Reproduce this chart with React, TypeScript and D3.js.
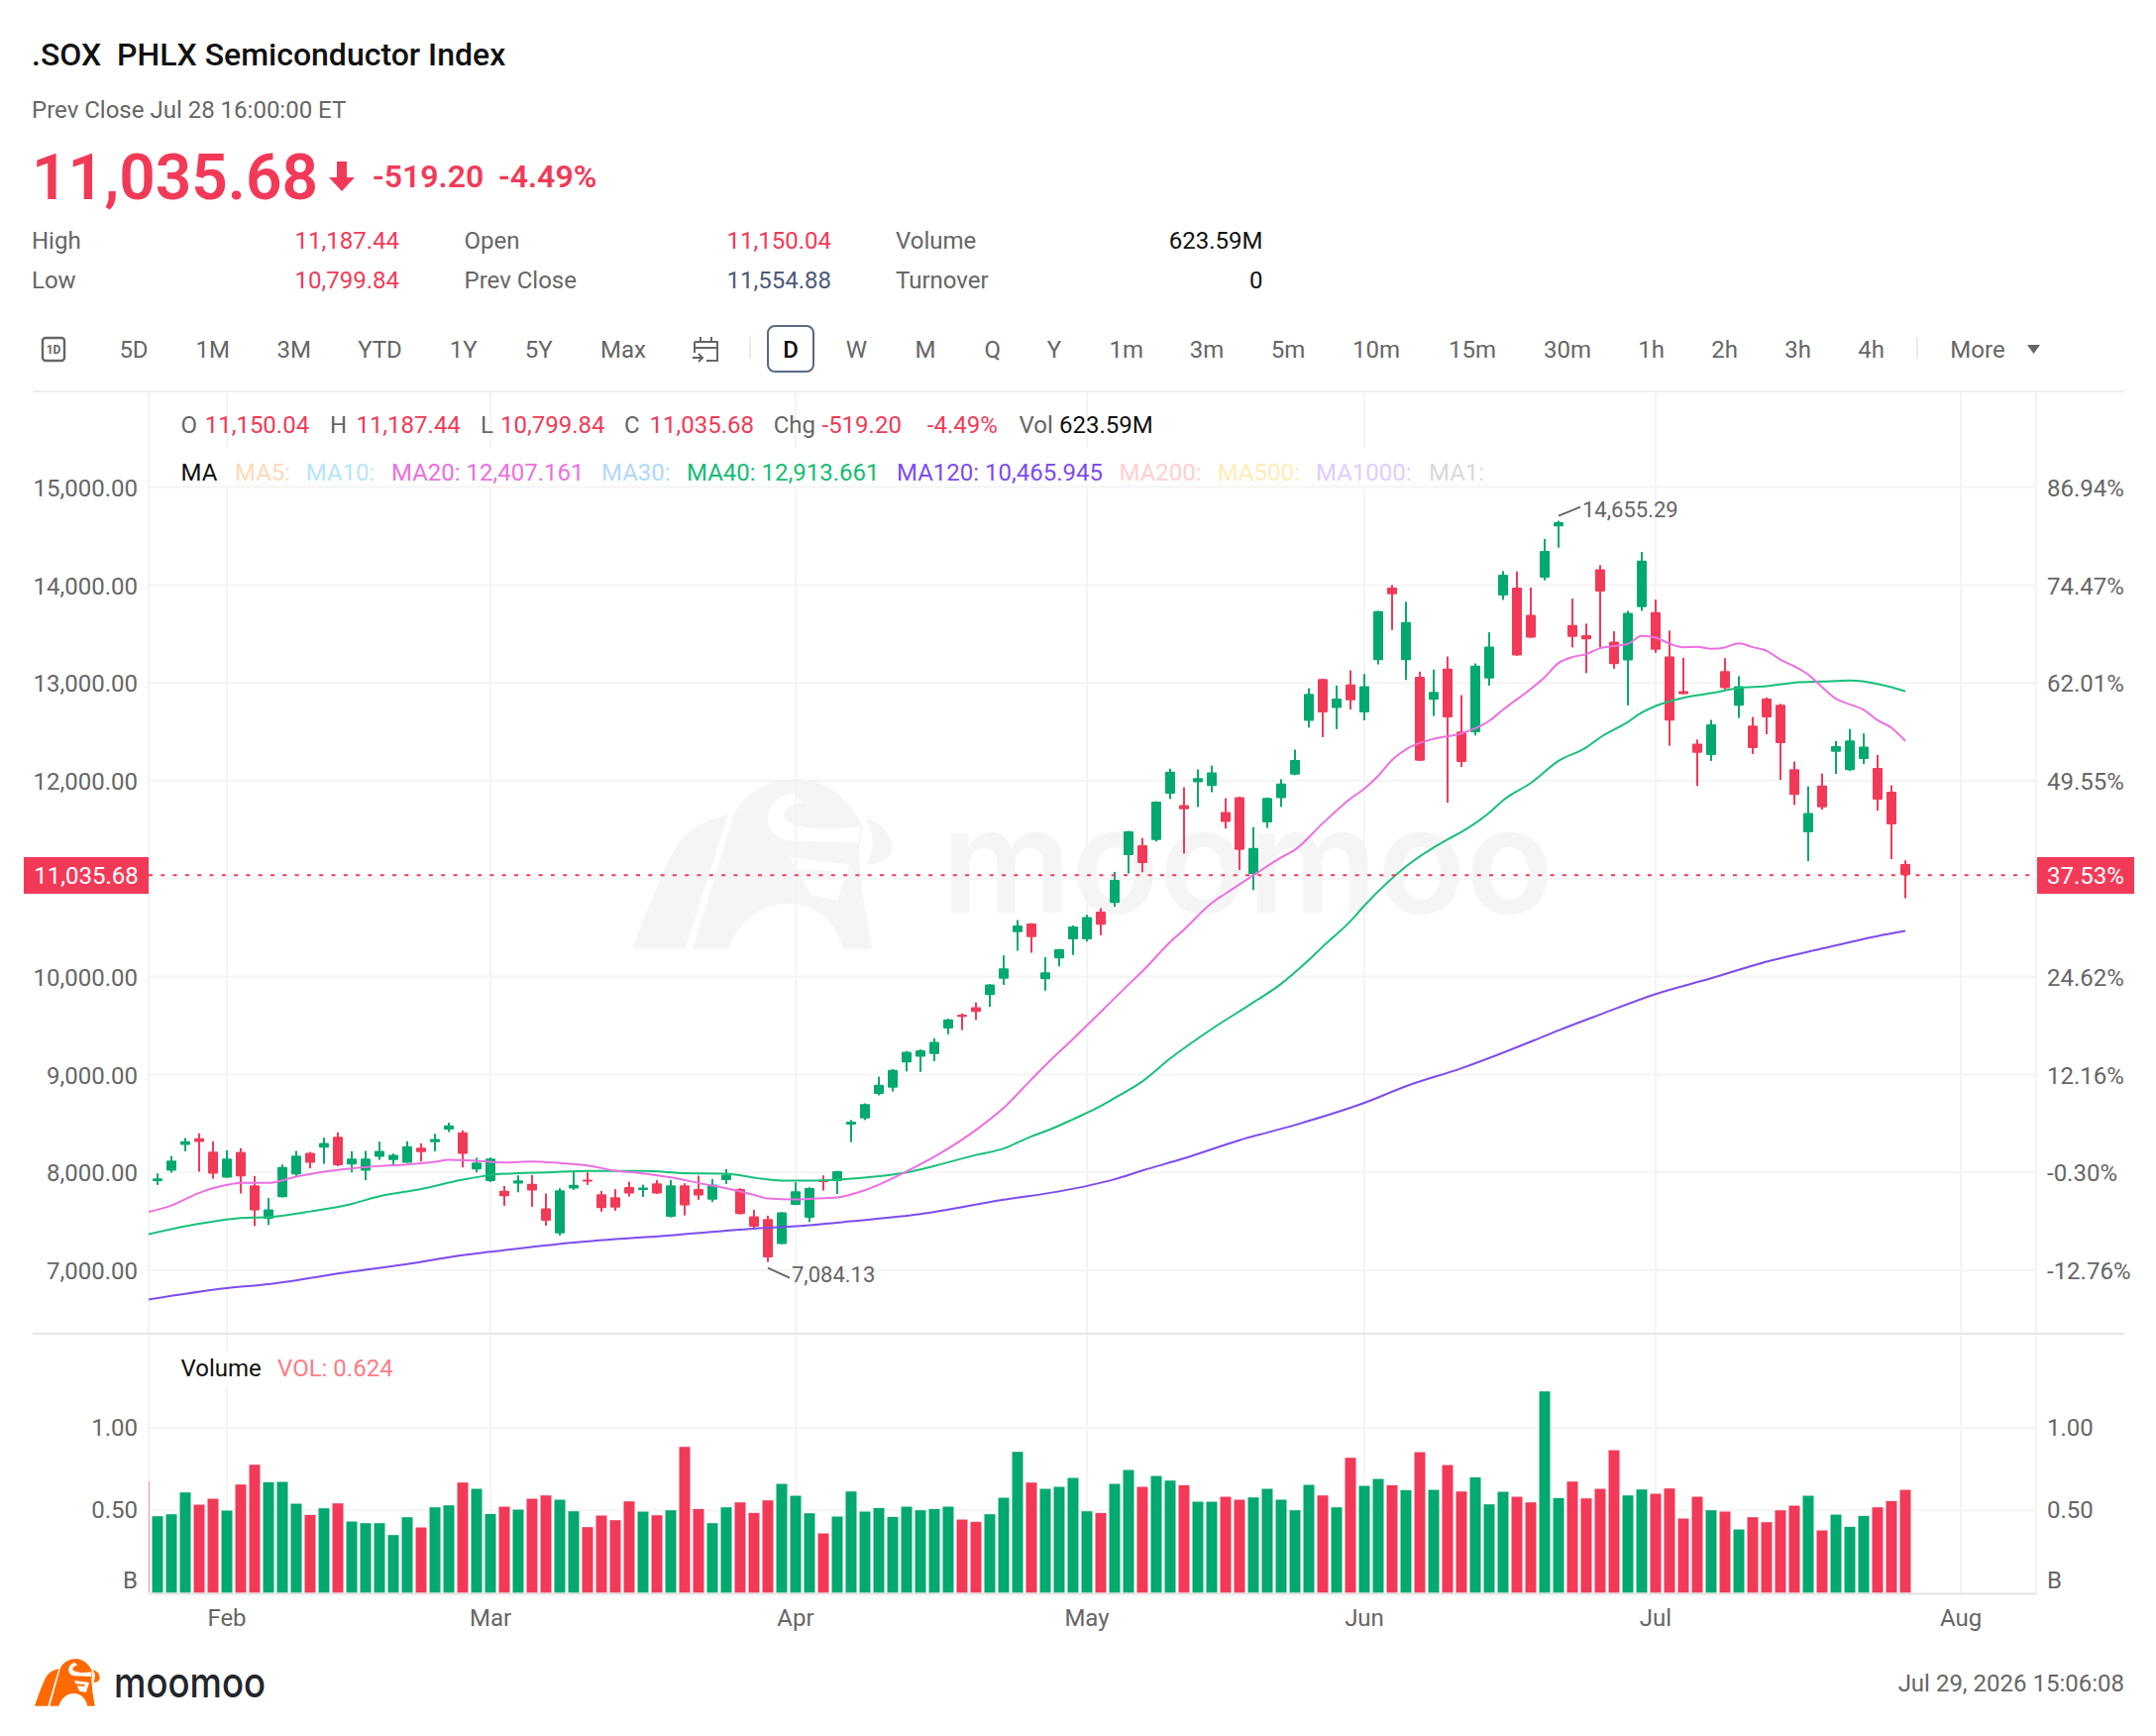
import { useEffect, useRef } from 'react'
import * as d3 from 'd3'

const RED = '#f23a58'
const GREEN = '#03a96e'
const GRAY = '#666666'
const GRID = '#f4f4f4'
const FONT = 'Roboto, sans-serif'

// daily candles, index 0 = first whole candle on screen
const opens = [
  7912, 8017, 8280, 8348, 8213, 7946, 8209, 7868, 7527, 7747,
  7980, 8199, 8253, 8365, 8081, 8017, 8159, 8125, 8098, 8253,
  8307, 8436, 8409, 8030, 7912, 7811, 7885, 7882, 7632, 7378,
  7834, 7926, 7777, 7747, 7851, 7821, 7889, 7547, 7868, 7831,
  7720, 7922, 7831, 7551, 7524, 7267, 7669, 7537, 7922, 7911,
  8488, 8550, 8802, 8864, 9124, 9182, 9209, 9469, 9612, 9686,
  9810, 9977, 10453, 10543, 9973, 10186, 10380, 10380, 10663, 10752,
  11240, 11341, 11395, 11868, 11752, 11985, 11946, 11682, 11833, 11046,
  11574, 11822, 12062, 12612, 13039, 12744, 12984, 12699, 13233, 13973,
  13233, 13064, 12828, 13145, 12503, 12497, 13044, 13892, 13973, 13696,
  14074, 14598, 13591, 13487, 14162, 13422, 13230, 13774, 13723, 13270,
  12916, 12379, 12264, 13122, 12767, 12564, 12841, 12777, 12118, 11473,
  11953, 12297, 12108, 12223, 12132, 11889, 11150.04,
]
const highs = [
  7990, 8166, 8351, 8399, 8318, 8226, 8247, 7963, 7737, 8081,
  8220, 8209, 8355, 8409, 8216, 8220, 8314, 8193, 8318, 8297,
  8395, 8507, 8429, 8149, 8152, 7861, 7970, 7973, 7784, 7838,
  8017, 8000, 7811, 7828, 7905, 7875, 7922, 7922, 7889, 7966,
  7932, 8034, 7838, 7618, 7558, 7595, 7899, 7848, 7969, 8016,
  8535, 8705, 8977, 9054, 9240, 9256, 9368, 9570, 9624, 9736,
  9923, 10217, 10577, 10547, 10198, 10283, 10523, 10632, 10698, 11070,
  11488, 11415, 11791, 12124, 11934, 12116, 12155, 11822, 11837, 11527,
  11830, 12016, 12318, 12946, 13043, 12973, 13128, 13091, 13736, 14000,
  13828, 13115, 13135, 13270, 12875, 13199, 13517, 14142, 14138, 13973,
  14470, 14655.29, 13861, 13605, 14203, 13527, 13736, 14338, 13851, 13534,
  13257, 12422, 12622, 13253, 13068, 12652, 12851, 12787, 12196, 11943,
  12074, 12406, 12530, 12483, 12264, 11953, 11187.44,
]
const lows = [
  7872, 7997, 8216, 8007, 7936, 7943, 7784, 7453, 7463, 7743,
  7953, 8041, 8088, 8064, 8000, 7919, 8128, 8074, 8098, 8111,
  8216, 8412, 8051, 8000, 7902, 7659, 7797, 7649, 7456, 7355,
  7821, 7872, 7598, 7608, 7753, 7750, 7780, 7541, 7561, 7720,
  7696, 7882, 7571, 7433, 7084.13, 7267, 7666, 7493, 7814, 7779,
  8310, 8535, 8787, 8826, 9031, 9027, 9136, 9411, 9453, 9558,
  9690, 9915, 10264, 10244, 9857, 10105, 10221, 10357, 10423, 10713,
  11054, 11066, 11380, 11814, 11256, 11733, 11884, 11512, 11089, 10884,
  11519, 11733, 12058, 12543, 12446, 12527, 12729, 12618, 13189, 13541,
  13030, 12203, 12662, 11777, 12142, 12463, 12973, 13848, 13277, 13460,
  14047, 14382, 13362, 13101, 13362, 13145, 12770, 13736, 13307, 12358,
  12882, 11946, 12203, 12916, 12642, 12274, 12476, 12010, 11754, 11179,
  11706, 12071, 12102, 12172, 11696, 11200, 10799.84,
]
const closes = [
  7939, 8122, 8318, 8311, 7986, 8142, 7959, 7612, 7622, 8054,
  8172, 8098, 8301, 8074, 8142, 8142, 8220, 8179, 8267, 8206,
  8341, 8480, 8189, 8101, 8142, 7757, 7919, 7814, 7507, 7818,
  7872, 7905, 7635, 7639, 7784, 7845, 7784, 7868, 7662, 7764,
  7875, 7976, 7574, 7446, 7132, 7591, 7807, 7841, 7911, 8012,
  8519, 8698, 8895, 9047, 9233, 9248, 9333, 9562, 9589, 9640,
  9919, 10085, 10523, 10403, 10043, 10279, 10512, 10609, 10531, 10988,
  11484, 11159, 11787, 12093, 11709, 12027, 12085, 11581, 11295, 11314,
  11826, 11973, 12213, 12888, 12698, 12841, 12822, 12966, 13733, 13905,
  13622, 12206, 12909, 12649, 12193, 13176, 13372, 14105, 13280, 13463,
  14348, 14642, 13470, 13446, 13932, 13193, 13716, 14250, 13338, 12615,
  12885, 12287, 12578, 12946, 12966, 12335, 12649, 12385, 11855, 11672,
  11730, 12355, 12412, 12348, 11808, 11554.88, 11035.68,
]
// volume in billions, one per candle
const volumes = [
  0.464, 0.476, 0.608, 0.534, 0.57, 0.498, 0.656, 0.776, 0.67, 0.672,
  0.54, 0.472, 0.512, 0.542, 0.432, 0.422, 0.422, 0.35, 0.458, 0.396,
  0.518, 0.53, 0.668, 0.63, 0.478, 0.522, 0.504, 0.57, 0.59, 0.564,
  0.494, 0.398, 0.468, 0.44, 0.554, 0.492, 0.47, 0.5, 0.884, 0.508,
  0.422, 0.518, 0.548, 0.484, 0.56, 0.66, 0.588, 0.482, 0.36, 0.462,
  0.614, 0.492, 0.514, 0.46, 0.522, 0.5, 0.508, 0.522, 0.444, 0.43,
  0.476, 0.576, 0.854, 0.668, 0.63, 0.642, 0.696, 0.494, 0.484, 0.66,
  0.744, 0.642, 0.708, 0.68, 0.652, 0.552, 0.552, 0.582, 0.564, 0.578,
  0.63, 0.564, 0.5, 0.654, 0.59, 0.518, 0.818, 0.648, 0.69, 0.652,
  0.622, 0.852, 0.624, 0.774, 0.614, 0.7, 0.536, 0.612, 0.582, 0.548,
  1.22, 0.574, 0.674, 0.572, 0.63, 0.864, 0.59, 0.626, 0.6, 0.632,
  0.45, 0.582, 0.5, 0.492, 0.384, 0.458, 0.428, 0.5, 0.528, 0.588,
  0.378, 0.474, 0.4, 0.466, 0.518, 0.556, 0.6236,
]
const clippedVolume = 0.674 // the half hidden red bar left of candle 0

const ma20Days = [-1, 1, 3, 5, 6, 8, 10, 12, 14, 16, 18, 20, 21, 23, 25, 27, 29, 31, 33, 35, 37, 39, 41, 43, 44, 46, 48, 49, 51, 54, 57, 59, 61, 63, 64, 66, 68, 70, 71, 73, 74, 76, 77, 79, 81, 82, 84, 86, 87, 88, 89, 90, 92, 94, 96, 97, 99, 100, 101, 102, 103, 104, 106, 107, 108, 109, 110, 111, 112, 113, 114, 115, 116, 117, 118, 119, 120, 121, 122, 123, 124, 125, 126]
const ma20Values = [7585, 7662, 7791, 7872, 7892, 7892, 7956, 8007, 8041, 8064, 8081, 8108, 8128, 8118, 8101, 8111, 8095, 8071, 8017, 7990, 7949, 7892, 7838, 7770, 7733, 7723, 7737, 7744, 7818, 8010, 8244, 8434, 8659, 8950, 9093, 9364, 9640, 9919, 10054, 10353, 10480, 10752, 10849, 11035, 11217, 11295, 11566, 11818, 11920, 12051, 12213, 12321, 12429, 12483, 12612, 12726, 12939, 13058, 13203, 13264, 13294, 13355, 13399, 13480, 13463, 13402, 13365, 13368, 13348, 13362, 13405, 13365, 13328, 13237, 13169, 13085, 12956, 12838, 12780, 12726, 12618, 12541, 12407.161]

const ma40Days = [-1, 3, 6, 8, 11, 14, 16, 19, 22, 24, 26, 28, 31, 35, 38, 41, 43, 45, 47, 49, 52, 54, 56, 59, 61, 63, 64, 66, 68, 69, 71, 73, 75, 76, 79, 81, 82, 83, 84, 86, 87, 90, 93, 94, 96, 97, 99, 101, 103, 104, 106, 107, 108, 110, 112, 114, 116, 118, 120, 122, 124, 125, 126]
const ma40Values = [7358, 7476, 7534, 7544, 7601, 7679, 7757, 7831, 7926, 7973, 7993, 8000, 8014, 8014, 7993, 7986, 7946, 7916, 7916, 7926, 7961, 8000, 8066, 8178, 8244, 8368, 8419, 8543, 8678, 8760, 8930, 9163, 9368, 9465, 9736, 9926, 10043, 10170, 10306, 10566, 10725, 11125, 11402, 11477, 11673, 11801, 11977, 12203, 12341, 12443, 12601, 12696, 12764, 12848, 12895, 12949, 12966, 13003, 13014, 13024, 12990, 12956, 12913.661]

const ma120Days = [-1, 5, 8, 14, 18, 22, 24, 30, 37, 43, 47, 50, 55, 61, 65, 69, 71, 74, 78, 82, 87, 90, 94, 99, 101, 104, 108, 112, 116, 120, 124, 126]
const ma120Values = [6693, 6818, 6858, 6987, 7064, 7155, 7189, 7284, 7358, 7426, 7460, 7500, 7574, 7721, 7806, 7930, 8019, 8143, 8329, 8484, 8710, 8880, 9064, 9335, 9451, 9613, 9822, 9983, 10152, 10286, 10414, 10465.945]

const priceGrid = [15000, 14000, 13000, 12000, 11000, 10000, 9000, 8000, 7000]
const priceLabels = [15000, 14000, 13000, 12000, 10000, 9000, 8000, 7000]
const percentLabels = ['86.94%', '74.47%', '62.01%', '49.55%', '24.62%', '12.16%', '-0.30%', '-12.76%']
const volumeTicks = [1, 0.5]
const monthDays = [5, 24, 46, 67, 87, 108, 130]
const monthLabels = ['Feb', 'Mar', 'Apr', 'May', 'Jun', 'Jul', 'Aug']

const rangeTabs: [string, number][] = [['5D', 135], ['1M', 214.7], ['3M', 296.8], ['YTD', 383.5], ['1Y', 467.8], ['5Y', 543.6], ['Max', 629]]
const periodTabs: [string, number][] = [['W', 864.5], ['M', 934], ['Q', 1001.7], ['Y', 1064], ['1m', 1136.8], ['3m', 1218], ['5m', 1300], ['10m', 1389], ['15m', 1486], ['30m', 1582], ['1h', 1666.5], ['2h', 1740.5], ['3h', 1814.6], ['4h', 1888.6], ['More', 1996]]
const stats: [string, string, string, number, number][] = [
  ['High', '11,187.44', RED, 32, 403],
  ['Low', '10,799.84', RED, 32, 403],
  ['Open', '11,150.04', RED, 468.5, 839],
  ['Prev Close', '11,554.88', '#4d5a7a', 468.5, 839],
  ['Volume', '623.59M', '#111111', 904, 1274.5],
  ['Turnover', '0', '#111111', 904, 1274.5],
]
const ohlcRow: [string, string, number][] = [
  ['O', GRAY, 182.5], ['11,150.04', RED, 206.7], ['H', GRAY, 333], ['11,187.44', RED, 359.4],
  ['L', GRAY, 485], ['10,799.84', RED, 505], ['C', GRAY, 630], ['11,035.68', RED, 655.6],
  ['Chg', GRAY, 780.7], ['-519.20', RED, 829.5], ['-4.49%', RED, 935.8], ['Vol', GRAY, 1028.6], ['623.59M', '#111111', 1069],
]
const maRow: [string, string, number][] = [
  ['MA', '#111111', 182.5], ['MA5:', '#ffd9b8', 237], ['MA10:', '#b5e6fb', 308.8], ['MA20: 12,407.161', '#ec6fe0', 395],
  ['MA30:', '#b0d8ff', 607], ['MA40: 12,913.661', '#12bd72', 693], ['MA120: 10,465.945', '#7d4cef', 905],
  ['MA200:', '#ffcfd0', 1129.5], ['MA500:', '#ffebb8', 1228.7], ['MA1000:', '#e0ccff', 1328], ['MA1:', '#d9d9d9', 1442],
]

// bull mark, drawn as the logo outlines
const logoSlice = 'M0,143 C10,115 22,80 32,60 C40,42 55,35 73,30 L40,143 Z'
const logoBody = 'M46,143 L78,28 C88,8 108,0 127,0 C150,2 168,20 175,42 L172,62 L175,98 L182,143 L160,143 C155,120 140,105 118,105 C96,105 80,122 73,143 Z'
const logoHorn = 'M177,33 C192,38 198,50 197,60 C195,68 188,72 178,72 C184,60 184,45 177,33 Z'
const logoCut1 = 'M122,12 C100,15 95,45 118,52 L172,54 L173,40 C150,44 128,42 118,36 C112,30 116,22 130,20 Z'
const logoCut2 = 'M120,66 L165,72 L156,102 L136,98 L128,82 L150,84 L152,78 L124,76 Z'

export default function App() {
  const svgRef = useRef<SVGSVGElement>(null)

  useEffect(() => {
    if (!svgRef.current) return
    const svg = d3.select(svgRef.current)
    svg.selectAll('*').remove()

    const x = d3.scaleLinear().domain([0, 126]).range([159, 1923])
    const y = d3.scaleLinear().domain([7000, 15000]).range([1282, 491.6])
    const yVol = d3.scaleLinear().domain([0, 1]).range([1607.5, 1440.9])
    const left = 150
    const right = 2055

    const label = (
      parent: any, tx: number, ty: number, str: string,
      fill = GRAY, size = 24, anchor = 'start', weight = 400,
    ) => parent.append('text')
      .attr('x', tx).attr('y', ty)
      .attr('fill', fill).attr('font-size', size).attr('font-weight', weight)
      .attr('font-family', FONT).attr('text-anchor', anchor)
      .text(str)

    const logo = (tx: number, ty: number, kx: number, ky: number, fill: string) => {
      const g = svg.append('g').attr('transform', `translate(${tx},${ty}) scale(${kx},${ky})`)
      ;[logoSlice, logoBody, logoHorn].forEach(d => g.append('path').attr('d', d).attr('fill', fill))
      ;[logoCut1, logoCut2].forEach(d => g.append('path').attr('d', d).attr('fill', '#fff'))
    }

    svg.append('rect').attr('width', 2176).attr('height', 1752).attr('fill', '#fff')

    // header
    label(svg, 32, 66, '.SOX  PHLX Semiconductor Index', '#111111', 32, 'start', 500).style('white-space', 'pre')
    label(svg, 32, 119, 'Prev Close Jul 28 16:00:00 ET')
    label(svg, 32, 200.7, '11,035.68', RED, 64, 'start', 600)
    svg.append('path').attr('d', 'M340,163 H350 V179 H358 L345,193 L332,179 H340 Z').attr('fill', RED)
    label(svg, 376, 189, '-519.20', RED, 32, 'start', 600)
    label(svg, 503, 189, '-4.49%', RED, 32, 'start', 600)
    stats.forEach((s, i) => {
      const base = i % 2 === 0 ? 251 : 290.5
      label(svg, s[3], base, s[0])
      label(svg, s[4], base, s[1], s[2], 24, 'end')
    })

    // toolbar
    rangeTabs.concat(periodTabs).forEach(t => label(svg, t[1], 361, t[0], GRAY, 24, 'middle'))
    label(svg, 798, 361, 'D', '#111111', 24, 'middle', 500)
    svg.append('rect').attr('x', 775).attr('y', 329).attr('width', 46).attr('height', 46).attr('rx', 7)
      .attr('fill', 'none').attr('stroke', '#5a6b85').attr('stroke-width', 2)
    svg.append('rect').attr('x', 43).attr('y', 341).attr('width', 22).attr('height', 23).attr('rx', 3)
      .attr('fill', 'none').attr('stroke', GRAY).attr('stroke-width', 2.4)
    label(svg, 54, 357, '1D', GRAY, 12, 'middle', 700)
    svg.append('path')
      .attr('d', 'M701,345 H724 V364 H713 M701,345 V356 M701,351 H724 M707,340 V345 M718,340 V345 M699,361 H709 M705,357 L709,361 L705,365')
      .attr('fill', 'none').attr('stroke', GRAY).attr('stroke-width', 2)
    ;[757, 1935].forEach(sx => svg.append('line').attr('x1', sx).attr('x2', sx).attr('y1', 340).attr('y2', 362)
      .attr('stroke', '#e3e3e3').attr('stroke-width', 1.5))
    svg.append('path').attr('d', 'M2046,348 H2059 L2052.5,357 Z').attr('fill', GRAY)

    // watermark sits under the grid
    logo(638, 786, 1.33, 1.2, '#f5f5f5')
    label(svg, 950, 921, 'moomoo', '#f5f5f5', 146, 'start', 600)
      .attr('font-family', 'Inter, sans-serif')
      .attr('textLength', 618).attr('lengthAdjust', 'spacingAndGlyphs')

    // grid
    const grid = svg.append('g').attr('stroke', GRID).attr('stroke-width', 2)
    grid.selectAll('.h').data(priceGrid).enter().append('line')
      .attr('x1', left).attr('x2', right).attr('y1', d => y(d)).attr('y2', d => y(d))
    grid.selectAll('.hv').data(volumeTicks).enter().append('line')
      .attr('x1', left).attr('x2', right).attr('y1', d => yVol(d)).attr('y2', d => yVol(d))
    grid.selectAll('.v').data(monthDays).enter().append('line')
      .attr('x1', d => x(d)).attr('x2', d => x(d)).attr('y1', 395).attr('y2', 1608)
    ;[left, right].forEach(v => grid.append('line').attr('x1', v).attr('x2', v).attr('y1', 395).attr('y2', 1608))

    // legend rows sit on white boxes that cut the grid
    svg.append('rect').attr('x', 152).attr('y', 452).attr('width', 1354).attr('height', 38).attr('fill', '#fff')
    ohlcRow.forEach(t => label(svg, t[2], 436.5, t[0], t[1]))
    maRow.forEach(t => label(svg, t[2], 485, t[0], t[1]))
    svg.append('rect').attr('x', 152).attr('y', 1364).attr('width', 260).attr('height', 36).attr('fill', '#fff')
    label(svg, 182.5, 1388.5, 'Volume', '#111111')
    label(svg, 280, 1388.5, 'VOL: 0.624', '#ff7b84')

    // pane rules
    svg.append('line').attr('x1', 33).attr('x2', 2144).attr('y1', 395).attr('y2', 395).attr('stroke', '#eeeeee').attr('stroke-width', 2)
    svg.append('line').attr('x1', 33).attr('x2', 2144).attr('y1', 1346).attr('y2', 1346).attr('stroke', '#e6e6e6').attr('stroke-width', 2)

    const defs = svg.append('defs')
    defs.append('clipPath').attr('id', 'plot-area').append('rect')
      .attr('x', left).attr('y', 395).attr('width', right - left).attr('height', 1213)

    // axes
    const styleAxis = (g: any) => {
      g.attr('font-family', FONT).attr('font-size', 24).attr('color', GRAY)
      g.select('.domain').remove()
      g.selectAll('line').remove()
    }
    svg.append('g').attr('transform', 'translate(139,1)')
      .call(d3.axisLeft(y).tickValues(priceLabels).tickSize(0).tickPadding(0).tickFormat(d3.format(',.2f') as any))
      .call(styleAxis)
    svg.append('g').attr('transform', 'translate(2066,1)')
      .call(d3.axisRight(y).tickValues(priceLabels).tickSize(0).tickPadding(0).tickFormat((_, i) => percentLabels[i]))
      .call(styleAxis)
    svg.append('g').attr('transform', 'translate(139,0)')
      .call(d3.axisLeft(yVol).tickValues(volumeTicks).tickSize(0).tickPadding(0).tickFormat(d3.format('.2f') as any))
      .call(styleAxis)
    svg.append('g').attr('transform', 'translate(2066,0)')
      .call(d3.axisRight(yVol).tickValues(volumeTicks).tickSize(0).tickPadding(0).tickFormat(d3.format('.2f') as any))
      .call(styleAxis)
    label(svg, 139, 1602.5, 'B', GRAY, 24, 'end')
    label(svg, 2066, 1602.5, 'B')
    svg.append('g').attr('transform', 'translate(0,1641)')
      .selectAll('text').data(monthDays).enter().append('text')
      .attr('x', d => x(d)).attr('text-anchor', 'middle').attr('fill', GRAY)
      .attr('font-family', FONT).attr('font-size', 24)
      .text((_, i) => monthLabels[i])

    // volume bars
    const plot = svg.append('g').attr('clip-path', 'url(#plot-area)')
    plot.append('rect')
      .attr('x', x(-1) - 5.5).attr('width', 11)
      .attr('y', yVol(clippedVolume)).attr('height', yVol(0) - yVol(clippedVolume))
      .attr('fill', RED)
    plot.append('g').selectAll('rect').data(volumes).enter().append('rect')
      .attr('x', (_, i) => x(i) - 5.5).attr('width', 11)
      .attr('y', d => yVol(d)).attr('height', d => yVol(0) - yVol(d))
      .attr('fill', (_, i) => closes[i] < opens[i] ? RED : GREEN)
    svg.append('line').attr('x1', left).attr('x2', right).attr('y1', 1608.5).attr('y2', 1608.5).attr('stroke', '#e3e3e3').attr('stroke-width', 2)

    // candles
    const candles = plot.append('g').selectAll('g').data(d3.range(opens.length)).enter().append('g')
      .attr('fill', i => closes[i] < opens[i] ? RED : GREEN)
    candles.append('rect')
      .attr('x', i => x(i) - 1).attr('width', 2)
      .attr('y', i => y(highs[i])).attr('height', i => y(lows[i]) - y(highs[i]))
    candles.append('rect')
      .attr('x', i => x(i) - 5).attr('width', 10).attr('rx', 1)
      .attr('y', i => y(Math.max(opens[i], closes[i])))
      .attr('height', i => Math.max(2, Math.abs(y(opens[i]) - y(closes[i]))))

    // moving averages
    const maLine = d3.line<number>().curve(d3.curveMonotoneX)
    const drawMa = (days: number[], values: number[], color: string) => {
      plot.append('path')
        .attr('d', maLine.x(d => x(days[d])).y(d => y(values[d]))(d3.range(days.length)))
        .attr('fill', 'none').attr('stroke', color).attr('stroke-width', 2)
    }
    drawMa(ma120Days, ma120Values, '#7d4cef')
    drawMa(ma40Days, ma40Values, '#18c07a')
    drawMa(ma20Days, ma20Values, '#ec6fe0')

    // last price line and tags
    const last = closes[closes.length - 1]
    svg.append('line').attr('x1', left).attr('x2', right).attr('y1', y(last)).attr('y2', y(last))
      .attr('stroke', RED).attr('stroke-width', 2).attr('stroke-dasharray', '4 8.3')
    svg.append('rect').attr('x', 24).attr('y', 865).attr('width', 126).attr('height', 37).attr('fill', RED)
    svg.append('rect').attr('x', 2056).attr('y', 865).attr('width', 98).attr('height', 37).attr('fill', RED)
    label(svg, 87, 892, d3.format(',.2f')(last), '#fff', 24, 'middle')
    label(svg, 2105, 892, '37.53%', '#fff', 24, 'middle')

    // high and low notes
    const hi = highs.indexOf(d3.max(highs) as number)
    const lo = lows.indexOf(d3.min(lows) as number)
    svg.append('line').attr('x1', x(hi)).attr('x2', x(hi) + 22).attr('y1', y(highs[hi]) - 5).attr('y2', y(highs[hi]) - 14)
      .attr('stroke', GRAY).attr('stroke-width', 2)
    label(svg, x(hi) + 24, y(highs[hi]) - 3.5, d3.format(',.2f')(highs[hi]), GRAY, 22)
    svg.append('line').attr('x1', x(lo)).attr('x2', x(lo) + 22).attr('y1', y(lows[lo]) + 6).attr('y2', y(lows[lo]) + 16)
      .attr('stroke', GRAY).attr('stroke-width', 2)
    label(svg, x(lo) + 24, y(lows[lo]) + 20, d3.format(',.2f')(lows[lo]), GRAY, 22)

    // footer
    logo(35, 1674, 1 / 3, 1 / 3, '#ff6a00')
    label(svg, 115, 1712.7, 'moomoo', '#24252b', 41.6, 'start', 500)
      .attr('font-family', 'Inter, sans-serif')
      .attr('textLength', 153).attr('lengthAdjust', 'spacingAndGlyphs')
    label(svg, 2144, 1706.7, 'Jul 29, 2026 15:06:08', GRAY, 24, 'end')
  }, [])

  return (
    <svg
      ref={svgRef}
      width={2176}
      height={1752}
      style={{ position: 'absolute', left: 0, top: 0, display: 'block' }}
    />
  )
}
